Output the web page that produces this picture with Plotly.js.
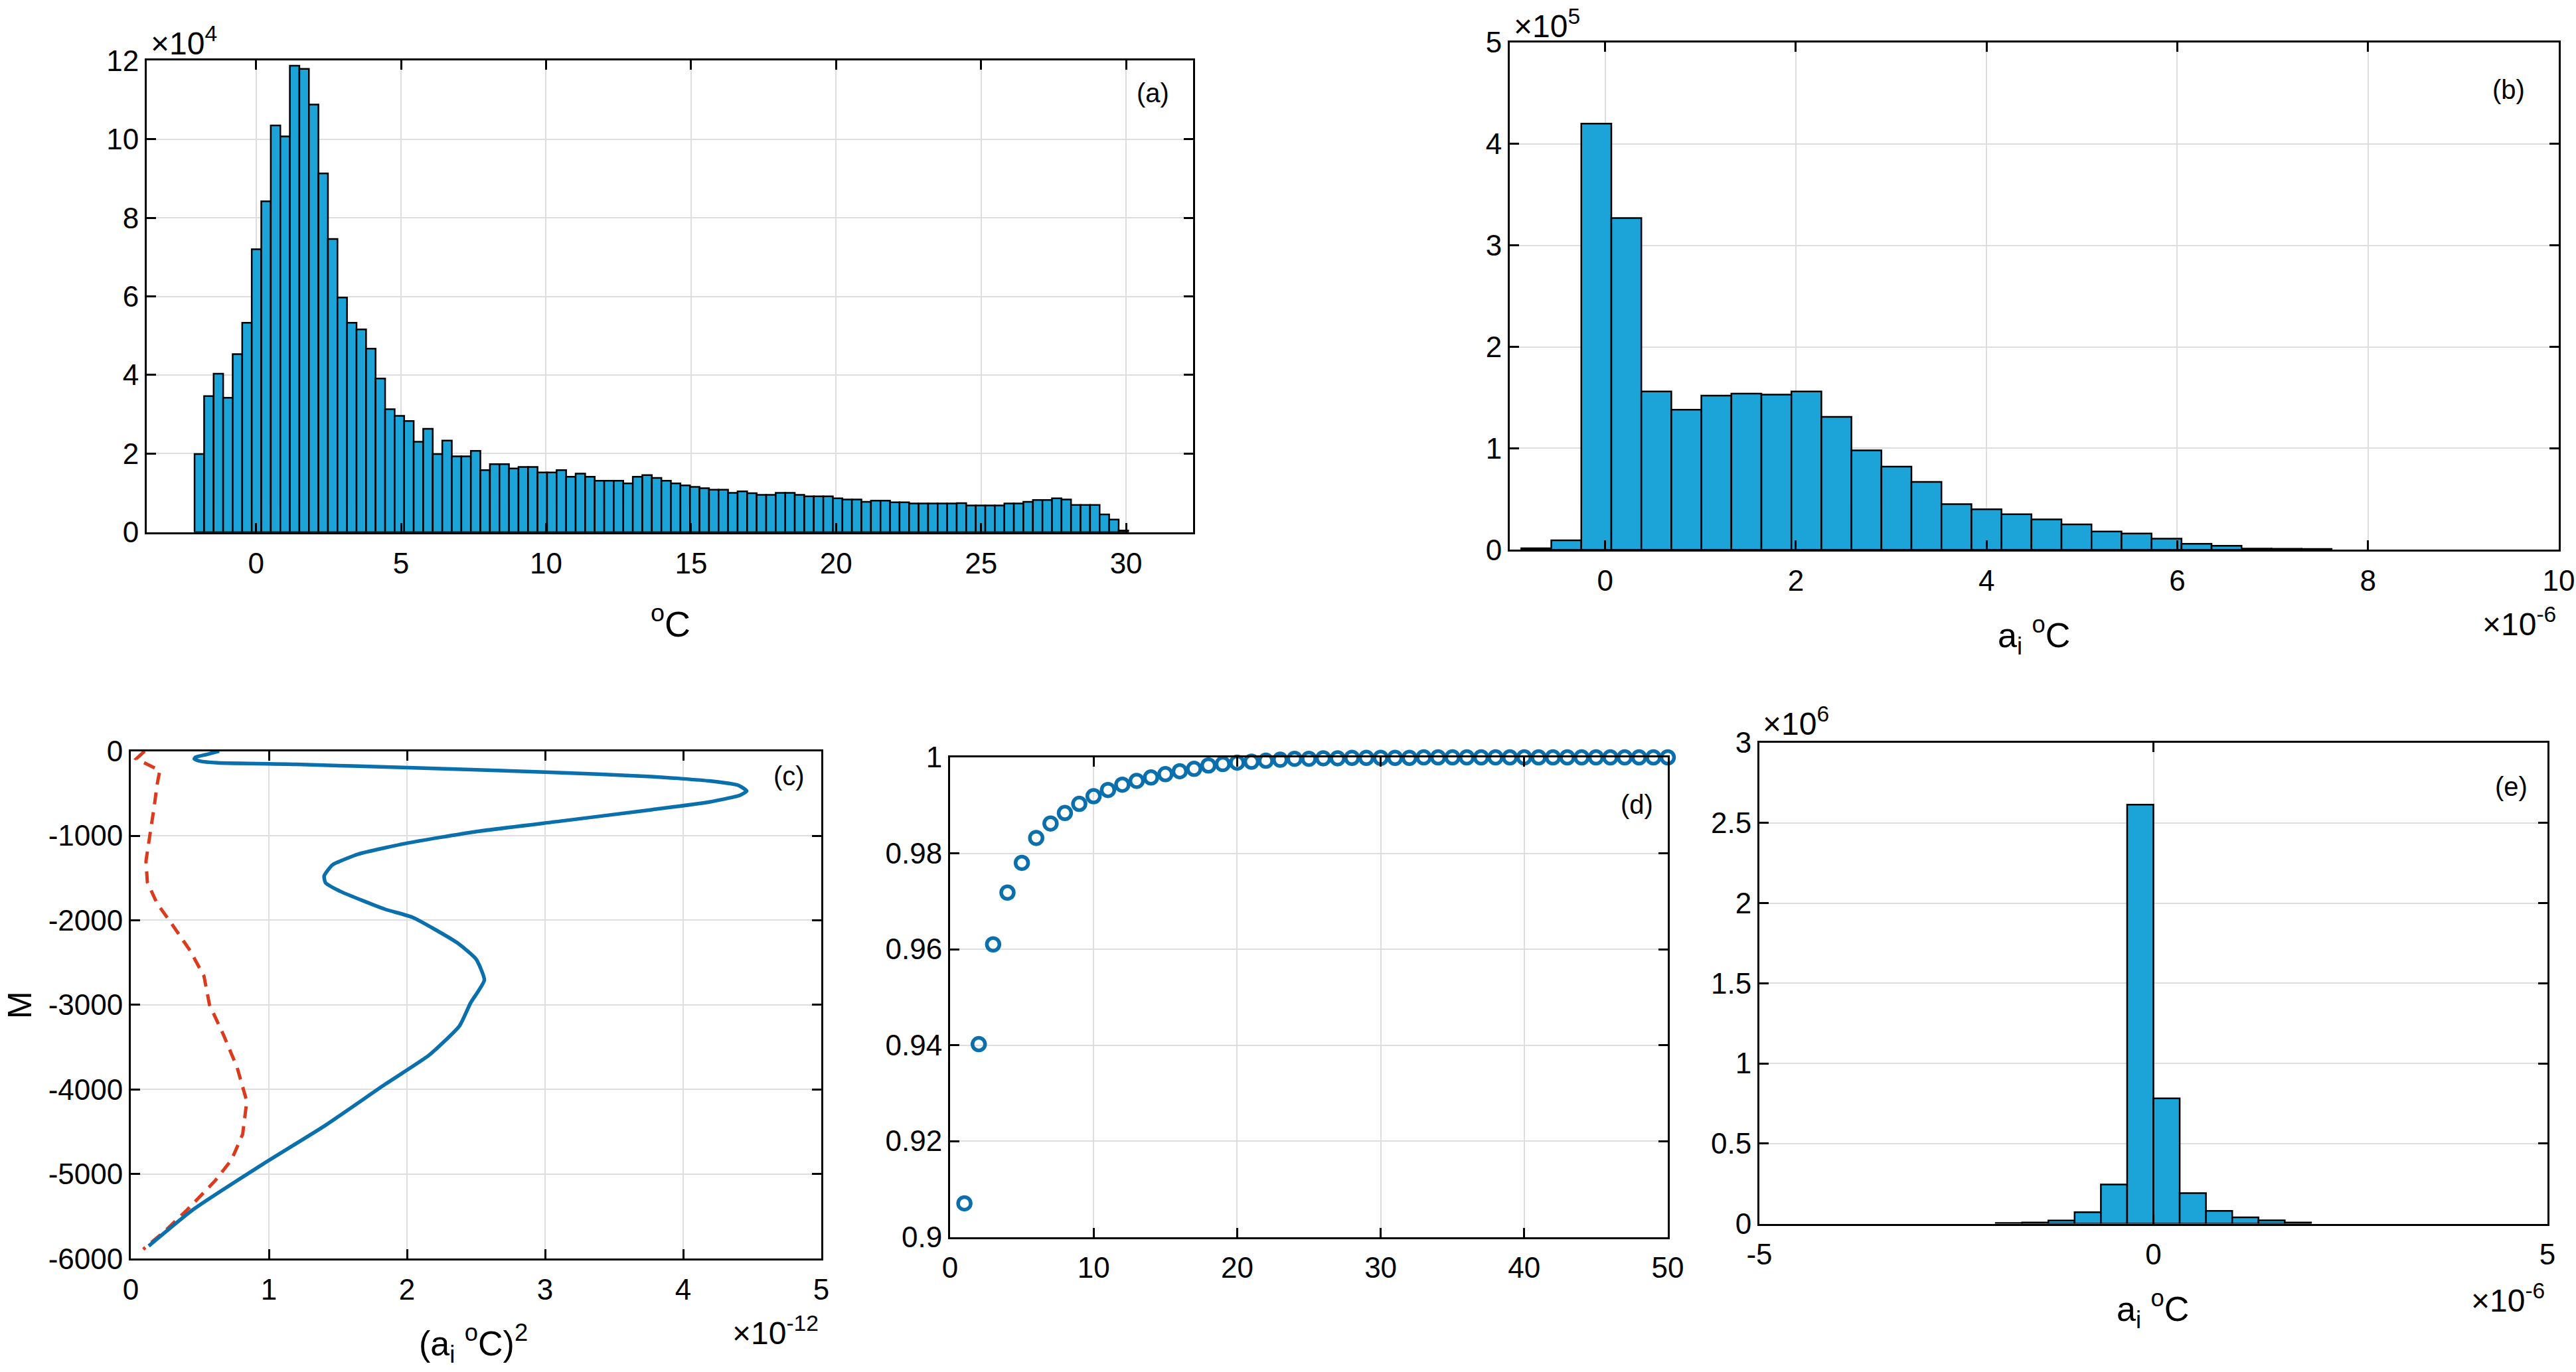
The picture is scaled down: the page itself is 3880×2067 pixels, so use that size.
<!DOCTYPE html>
<html>
<head>
<meta charset="utf-8">
<script src="https://cdn.plot.ly/plotly-3.0.1.min.js"></script>
<style>
  html, body { margin: 0; padding: 0; background: #fff; }
  #chart_container { width: 3880px; height: 2067px; }
</style>
</head>
<body>
<div id="chart_container"></div>
<script>
// ---- data ----

// (a) temperature histogram, counts in units of 1e4
var tempBinStart = -2.12;
var tempBinWidth = 0.3285;
var tempCounts = [
  1.99, 3.46, 4.03, 3.42, 4.53, 5.33, 7.20, 8.42, 10.35, 10.07,
  11.87, 11.79, 10.88, 9.13, 7.46, 5.97, 5.33, 5.16, 4.67, 3.91,
  3.13, 2.96, 2.83, 2.30, 2.63, 1.99, 2.33, 1.93, 1.93, 2.07,
  1.58, 1.73, 1.73, 1.62, 1.66, 1.66, 1.52, 1.52, 1.58, 1.41,
  1.49, 1.41, 1.31, 1.31, 1.31, 1.24, 1.41, 1.45, 1.38, 1.31,
  1.24, 1.19, 1.15, 1.12, 1.08, 1.08, 1.00, 1.04, 0.99, 0.95,
  0.95, 1.00, 1.00, 0.95, 0.91, 0.91, 0.91, 0.86, 0.83, 0.83,
  0.77, 0.80, 0.80, 0.76, 0.76, 0.73, 0.73, 0.73, 0.73, 0.73,
  0.74, 0.68, 0.68, 0.68, 0.68, 0.73, 0.73, 0.77, 0.82, 0.82,
  0.86, 0.83, 0.69, 0.69, 0.69, 0.45, 0.32, 0.04
];

// (b) a_i histogram, x in 1e-6, counts in 1e5
var coefBinStart = -0.879;
var coefBinWidth = 0.3147;
var coefCounts = [
  0.015, 0.094, 4.20, 3.27, 1.56, 1.38, 1.52, 1.54, 1.53, 1.56,
  1.31, 0.98, 0.82, 0.67, 0.45, 0.40, 0.35, 0.30, 0.25, 0.18,
  0.16, 0.11, 0.06, 0.04, 0.012, 0.010, 0.008
];

// (c) profiles of (a_i oC)^2 in 1e-12 against depth M
var solidX = [0.64, 0.55, 0.47, 0.46, 0.50, 0.63, 1.20, 2.01, 3.00, 3.77,
  4.19, 4.40, 4.46, 4.41, 4.19, 3.77, 3.13, 2.49, 2.01, 1.65,
  1.46, 1.40, 1.41, 1.52, 1.84, 2.04, 2.36, 2.50, 2.56, 2.46,
  2.38, 2.16, 1.84, 1.40, 0.96, 0.45, 0.13];
var solidDepth = [0, -39, -71, -92, -118, -139, -157, -196, -248, -301,
  -353, -405, -471, -523, -601, -693, -824, -954, -1085, -1216,
  -1346, -1477, -1556, -1660, -1869, -1965, -2262, -2459, -2706, -2978,
  -3249, -3595, -3941, -4434, -4879, -5422, -5850];
var dashX = [0.10, 0.04, 0.21, 0.19, 0.17, 0.14, 0.11, 0.12, 0.19, 0.30,
  0.43, 0.53, 0.57, 0.67, 0.77, 0.84, 0.81, 0.73, 0.61, 0.41, 0.25, 0.09];
var dashDepth = [0, -90, -230, -400, -650, -1000, -1300, -1550, -1800, -2050,
  -2360, -2660, -3000, -3350, -3740, -4140, -4530, -4830, -5080, -5420, -5670, -5890];

// (d) cumulative fraction against mode number
var modeNum = [];
for (var k = 1; k <= 50; k++) modeNum.push(k);
var cumFrac = [
  0.9070, 0.9402, 0.9610, 0.9718, 0.9780, 0.9832, 0.9862, 0.9884, 0.9903, 0.9919,
  0.9932, 0.9943, 0.9951, 0.9958, 0.9965, 0.9971, 0.9976, 0.9983, 0.9986, 0.9989,
  0.9991, 0.9993, 0.9995, 0.9997, 0.9997, 0.9998, 0.9998, 0.9999, 0.9999, 0.9999,
  0.9999, 0.9999, 1.0000, 1.0000, 1.0000, 1.0000, 1.0000, 1.0000, 1.0000, 1.0000,
  1.0000, 1.0000, 1.0000, 1.0000, 1.0000, 1.0000, 1.0000, 1.0000, 1.0000, 1.0000
];

// (e) a_i histogram, x in 1e-6, counts in 1e6
var coef2BinStart = -2.0;
var coef2BinWidth = 1 / 3;
var coef2Counts = [0.005, 0.008, 0.020, 0.072, 0.245, 2.614, 0.782, 0.191, 0.080, 0.040, 0.021, 0.008];

// ---- helpers ----
var W = 3880, H = 2067;
var FONT = 'Liberation Sans, Arial, sans-serif';
var BAR = '#1ca3d8';
var BLUE = '#0a6fad';
var RED = '#dd3a1c';

function centers(start, width, n) {
  var c = [];
  for (var i = 0; i < n; i++) c.push(start + (i + 0.5) * width);
  return c;
}

function dom(p0, p1, total, flip) {
  if (flip) return [1 - p1 / total, 1 - p0 / total];
  return [p0 / total, p1 / total];
}

function axis(extra) {
  var a = {
    showline: true, linecolor: '#000', linewidth: 3, mirror: 'ticks',
    ticks: 'inside', ticklen: 14, tickwidth: 3, tickcolor: '#000',
    showgrid: true, gridcolor: '#dedede', gridwidth: 2,
    zeroline: false, fixedrange: true,
    tickfont: {family: FONT, size: 44, color: '#000'}
  };
  for (var key in extra) a[key] = extra[key];
  return a;
}

function note(text, x, y, size, xanchor, angle) {
  return {
    text: text, xref: 'paper', yref: 'paper',
    x: x / W, y: 1 - y / H, showarrow: false,
    xanchor: xanchor || 'center', yanchor: 'middle',
    textangle: angle || 0,
    font: {family: FONT, size: size, color: '#000'}
  };
}

function histBars(start, width, counts, xa, ya) {
  return {
    type: 'bar', x: centers(start, width, counts.length), y: counts,
    width: width, xaxis: xa, yaxis: ya,
    marker: {color: BAR, line: {color: '#000', width: 2.5}},
    hoverinfo: 'x+y'
  };
}

var traces = [
  histBars(tempBinStart, tempBinWidth, tempCounts, 'x', 'y'),
  histBars(coefBinStart, coefBinWidth, coefCounts, 'x2', 'y2'),
  {type: 'scatter', mode: 'lines', x: dashX, y: dashDepth, xaxis: 'x3', yaxis: 'y3',
   line: {color: RED, width: 5, dash: '18px,12px'}},
  {type: 'scatter', mode: 'lines', x: solidX, y: solidDepth, xaxis: 'x3', yaxis: 'y3',
   line: {color: BLUE, width: 5.5, shape: 'spline', smoothing: 0.5}},
  {type: 'scatter', mode: 'markers', x: modeNum, y: cumFrac, xaxis: 'x4', yaxis: 'y4',
   marker: {symbol: 'circle-open', size: 19, color: BLUE, line: {color: BLUE, width: 5.5}},
   cliponaxis: false},
  histBars(coef2BinStart, coef2BinWidth, coef2Counts, 'x5', 'y5')
];

var layout = {
  width: W, height: H,
  margin: {l: 0, r: 0, t: 0, b: 0},
  paper_bgcolor: '#fff', plot_bgcolor: '#fff',
  showlegend: false,
  bargap: 0,
  xaxis: axis({domain: dom(221, 1797, W), anchor: 'y', range: [-3.77, 32.31],
    tickvals: [0, 5, 10, 15, 20, 25, 30], ticklabelstandoff: 6}),
  yaxis: axis({domain: dom(91.3, 801.7, H, true), anchor: 'x', range: [0, 12],
    tickvals: [0, 2, 4, 6, 8, 10, 12]}),
  xaxis2: axis({domain: dom(2274, 3854, W), anchor: 'y2', range: [-1, 10],
    tickvals: [0, 2, 4, 6, 8, 10], ticklabelstandoff: 6}),
  yaxis2: axis({domain: dom(64, 828.3, H, true), anchor: 'x2', range: [0, 5],
    tickvals: [0, 1, 2, 3, 4, 5]}),
  xaxis3: axis({domain: dom(197, 1237, W), anchor: 'y3', range: [0, 5],
    tickvals: [0, 1, 2, 3, 4, 5], ticklabelstandoff: 6}),
  yaxis3: axis({domain: dom(1131.6, 1896.2, H, true), anchor: 'x3', range: [-6000, 0],
    tickvals: [0, -1000, -2000, -3000, -4000, -5000, -6000],
    ticktext: ['0', '-1000', '-2000', '-3000', '-4000', '-5000', '-6000']}),
  xaxis4: axis({domain: dom(1431, 2512, W), anchor: 'y4', range: [0, 50],
    tickvals: [0, 10, 20, 30, 40, 50], ticklabelstandoff: 6}),
  yaxis4: axis({domain: dom(1141, 1863.5, H, true), anchor: 'x4', range: [0.9, 1],
    tickvals: [0.9, 0.92, 0.94, 0.96, 0.98, 1],
    ticktext: ['0.9', '0.92', '0.94', '0.96', '0.98', '1']}),
  xaxis5: axis({domain: dom(2650, 3837, W), anchor: 'y5', range: [-5, 5],
    tickvals: [-5, 0, 5], ticktext: ['-5', '0', '5'], ticklabelstandoff: 6}),
  yaxis5: axis({domain: dom(1119, 1843.6, H, true), anchor: 'x5', range: [0, 3],
    tickvals: [0, 0.5, 1, 1.5, 2, 2.5, 3]}),
  annotations: [
    // axis titles
    note('<sup>o</sup>C', 1010, 936, 54),
    note('a<sub>i</sub> <sup>o</sup>C', 3063, 957, 52),
    note('(a<sub>i</sub> <sup>o</sup>C)<sup>2</sup>', 713, 2024, 52),
    note('M', 30, 1514, 50, 'center', -90),
    note('a<sub>i</sub> <sup>o</sup>C', 3242, 1972, 52),
    // exponent labels
    note('\u00d710<sup>4</sup>', 225, 62, 48, 'left'),
    note('\u00d710<sup>5</sup>', 2278, 36, 48, 'left'),
    note('\u00d710<sup>-6</sup>', 3852, 937, 48, 'right'),
    note('\u00d710<sup>-12</sup>', 1235, 2005, 48, 'right'),
    note('\u00d710<sup>6</sup>', 2653, 1087, 48, 'left'),
    note('\u00d710<sup>-6</sup>', 3835, 1956, 48, 'right'),
    // panel letters
    note('(a)', 1736, 140, 40),
    note('(b)', 3778, 135, 40),
    note('(c)', 1188, 1169, 40),
    note('(d)', 2465, 1212, 40),
    note('(e)', 3782, 1185, 40)
  ]
};

Plotly.newPlot('chart_container', traces, layout, {displayModeBar: false, staticPlot: true});
</script>
</body>
</html>
